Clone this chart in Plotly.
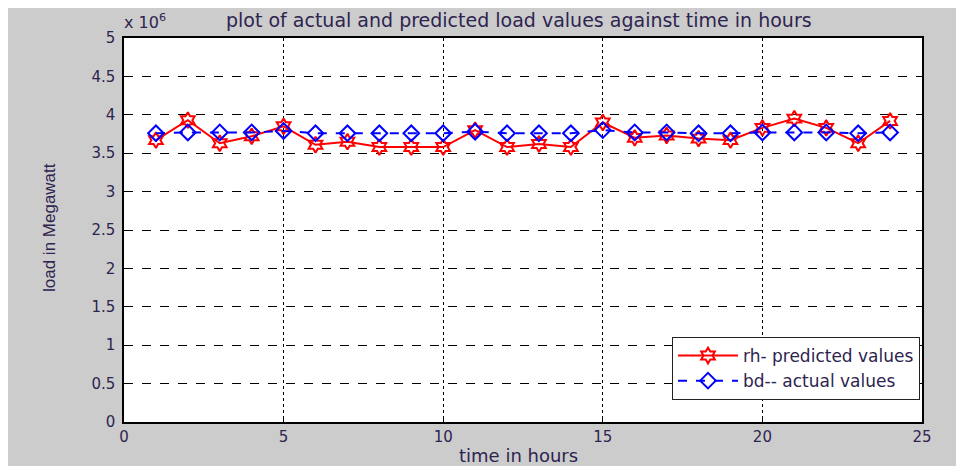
import plotly.graph_objects as go

hours = list(range(1, 25))
predicted = [3.67, 3.93, 3.63, 3.72, 3.85, 3.61, 3.65, 3.58, 3.58, 3.58, 3.80, 3.58,
             3.62, 3.58, 3.90, 3.70, 3.73, 3.69, 3.67, 3.83, 3.95, 3.83, 3.63, 3.92]
actual = [3.76, 3.77, 3.77, 3.77, 3.79, 3.76, 3.76, 3.76, 3.76, 3.76, 3.78, 3.76,
          3.76, 3.76, 3.80, 3.77, 3.77, 3.76, 3.76, 3.77, 3.77, 3.77, 3.76, 3.77]
scale = 1e6
y_ticks = [0, 0.5, 1, 1.5, 2, 2.5, 3, 3.5, 4, 4.5, 5]
y_tick_labels = ["0", "0.5", "1", "1.5", "2", "2.5", "3", "3.5", "4", "4.5", "5"]
x_ticks = [0, 5, 10, 15, 20, 25]

fig = go.Figure()
fig.add_trace(go.Scatter(
    x=hours, y=[v * scale for v in predicted], mode="lines+markers",
    name="rh- predicted values",
    line=dict(color="#ff0000", width=2),
    marker=dict(symbol="hexagram-open", size=12, color="#ff0000", line=dict(width=2, color="#ff0000")),
))
fig.add_trace(go.Scatter(
    x=hours, y=[v * scale for v in actual], mode="lines+markers",
    name="bd-- actual values",
    line=dict(color="#0000ff", width=2, dash="dash"),
    marker=dict(symbol="diamond-open", size=12, color="#0000ff", line=dict(width=2, color="#0000ff")),
))

# page is offset by the 8px body margin
OFF = 8
W, H = 964 - OFF, 466 - OFF
PL, PR, PT, PB = 124, 922, 38, 422  # plot area in page pixels
L, T = PL - OFF, PT - OFF
R, B = W - (PR - OFF), H - (PB - OFF)
pw, ph = PR - PL, PB - PT

def px(xp):
    return (xp - PL) / pw

def py(yp):
    return (PB - yp) / ph

font_main = "DejaVu Sans, Verdana, sans-serif"
font_lab = "Liberation Sans, Arial, sans-serif"
txt = "#2e2450"

fig.update_layout(
    width=W, height=H,
    margin=dict(l=L, r=R, t=T, b=B, pad=0),
    paper_bgcolor="#cccccc",
    plot_bgcolor="#ffffff",
    showlegend=True,
    legend=dict(
        x=px(920), y=py(337), xanchor="right", yanchor="top",
        bgcolor="#ffffff", bordercolor="#222222", borderwidth=1,
        font=dict(family=font_main, size=17, color=txt),
        tracegroupgap=0, itemwidth=60,
    ),
    xaxis=dict(
        range=[0, 25], tickvals=x_ticks,
        showgrid=True, gridcolor="#000000", gridwidth=1, griddash="dot",
        zeroline=False, showline=True, linecolor="#000000", linewidth=1.5, mirror=True,
        ticks="inside", ticklen=5, tickcolor="#000000",
        tickfont=dict(family=font_main, size=15, color=txt),
    ),
    yaxis=dict(
        range=[0, 5 * scale], tickvals=[v * scale for v in y_ticks], ticktext=y_tick_labels,
        showgrid=True, gridcolor="#000000", gridwidth=1, griddash="dash",
        zeroline=False, showline=True, linecolor="#000000", linewidth=1.5, mirror=True,
        ticks="inside", ticklen=5, tickcolor="#000000", ticklabelstandoff=4,
        tickfont=dict(family=font_main, size=15, color=txt),
    ),
    annotations=[
        dict(text="plot of actual and predicted load values against time in hours",
             xref="paper", yref="paper", x=px(519), y=py(20), xanchor="center", yanchor="middle",
             showarrow=False, font=dict(family=font_main, size=19, color=txt)),
        dict(text="x 10<sup>6</sup>", xref="paper", yref="paper", x=px(122), y=py(22),
             xanchor="left", yanchor="middle", showarrow=False,
             font=dict(family=font_main, size=16, color=txt)),
        dict(text="time in hours", xref="paper", yref="paper", x=px(518), y=py(455),
             xanchor="center", yanchor="middle", showarrow=False,
             font=dict(family=font_main, size=18, color=txt)),
        dict(text="load in Megawatt", xref="paper", yref="paper", x=px(49), y=py(228),
             xanchor="center", yanchor="middle", textangle=-90, showarrow=False,
             font=dict(family=font_lab, size=17, color=txt)),
    ],
)

fig.write_html("out.html")
